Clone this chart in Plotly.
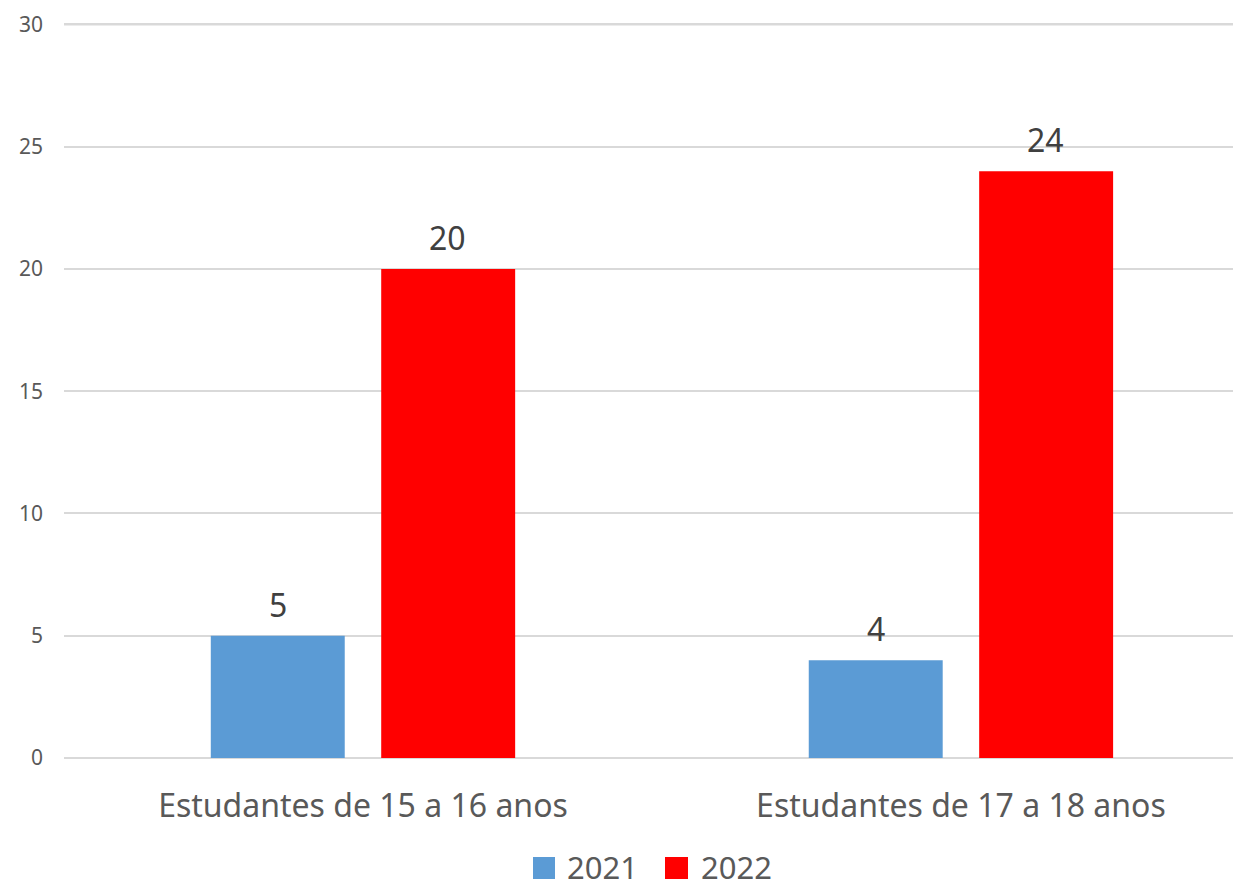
import plotly.graph_objects as go

categories = ["Estudantes de 15 a 16 anos", "Estudantes de 17 a 18 anos"]
series_names = ["2021", "2022"]
values_2021 = [5, 4]
values_2022 = [20, 24]
colors = ["#5B9BD5", "#FF0000"]
y_ticks = [0, 5, 10, 15, 20, 25, 30]

font_family = "Noto Sans, Open Sans, sans-serif"
W, H = 1225, 881
ML, MT, MB, MR = 56, 14, 131, 0
plot_w = W - ML - MR
plot_h = H - MT - MB

fig = go.Figure()
all_vals = [values_2021, values_2022]
for name, vals, col in zip(series_names, all_vals, colors):
    fig.add_trace(go.Bar(
        x=categories, y=vals, name=name,
        marker=dict(color=col, line=dict(width=0)),
        showlegend=False,
    ))

# top gridline (plotly drops the gridline at the very edge of the range)
fig.add_shape(type="line", xref="paper", yref="y", x0=0, x1=1,
              y0=y_ticks[-1], y1=y_ticks[-1], line=dict(color="#D9D9D9", width=2),
              layer="below")

# data labels above each bar (offset to the bar's slot within the group)
slot_px = 85
for vals, shift in zip(all_vals, [-slot_px, slot_px]):
    for c, v in zip(categories, vals):
        fig.add_annotation(x=c, y=v, text=str(v), showarrow=False,
                           xshift=shift, yshift=8, yanchor="bottom",
                           font=dict(size=32, color="#404040", family=font_family))

# manual legend (large square swatches like the original)
def px_to_paper_x(px):
    return (px - ML) / plot_w

def px_to_paper_y(py):
    return (MT + plot_h - py) / plot_h

legend_items = [(525, 547, 557), (657, 680, 691)]
for (sx0, sx1, tx), name, col in zip(legend_items, series_names, colors):
    fig.add_shape(type="rect", xref="paper", yref="paper",
                  x0=px_to_paper_x(sx0), x1=px_to_paper_x(sx1),
                  y0=px_to_paper_y(871), y1=px_to_paper_y(849),
                  fillcolor=col, line=dict(width=0))
    fig.add_annotation(xref="paper", yref="paper", x=px_to_paper_x(tx), y=px_to_paper_y(859),
                       xanchor="left", yanchor="middle", text=name, showarrow=False,
                       font=dict(size=31, color="#595959", family=font_family))

fig.update_layout(
    width=W, height=H,
    margin=dict(l=ML, r=MR, t=MT, b=MB, autoexpand=False),
    paper_bgcolor="white", plot_bgcolor="white",
    barmode="group", bargap=0.43, bargroupgap=0.214,
    font=dict(family=font_family, color="#595959"),
    showlegend=False,
    xaxis=dict(range=[-0.5, 1.455], showgrid=False, showline=False, zeroline=False,
               ticks="", ticklabelstandoff=26, tickfont=dict(size=32, color="#595959")),
    yaxis=dict(range=[0, 30.1], tickvals=y_ticks, showgrid=True, gridcolor="#D9D9D9",
               gridwidth=2, zeroline=True, zerolinecolor="#D9D9D9", zerolinewidth=2,
               showline=False, ticks="", ticklabelstandoff=20, ticklabeloverflow="allow",
               tickfont=dict(size=21, color="#595959")),
)

fig.write_html("out.html")
